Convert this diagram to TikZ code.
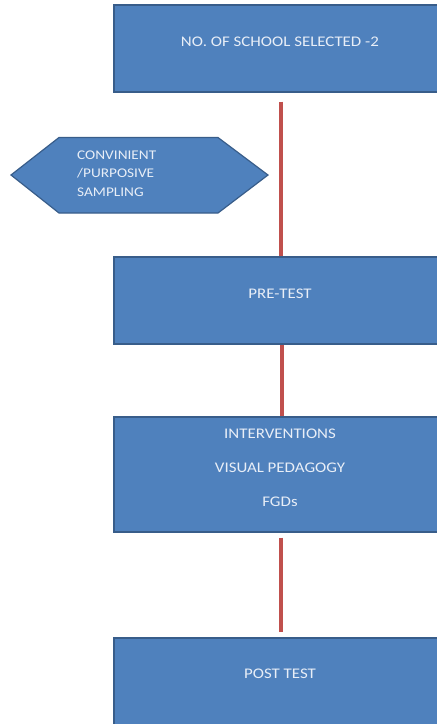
\documentclass[tikz,border=0pt]{standalone}
\usepackage{fontspec}
\setmainfont{Carlito}[FakeStretch=1.15]
\definecolor{boxfill}{HTML}{4F81BD}
\definecolor{boxline}{HTML}{385D8A}
\definecolor{linkred}{HTML}{C0504D}
\definecolor{boxtextc}{HTML}{E8EEF7}
\tikzset{
  x=1pt, y=-1pt,
  flowbox/.style={draw=boxline, line width=1.2pt, fill=boxfill, minimum width=332pt, minimum height=87pt, inner sep=0pt},
  flowtext/.style={text=boxtextc, font=\fontsize{14.7}{34}\selectfont, inner sep=0pt, align=center},
  hextext/.style={text=boxtextc, font=\fontsize{13.3}{18.5}\selectfont, inner sep=0pt, align=left, anchor=west},
  hexshape/.style={draw=boxline, line width=1.2pt, fill=boxfill},
  link/.style={draw=linkred, line width=4pt}
}
\begin{document}
\begin{tikzpicture}
\useasboundingbox (0,0) rectangle (437,724);
% boxes
\node[flowbox] (b1) at (280,48.5) {};
\node[flowtext] (t1) at (280,42) {NO. OF SCHOOL SELECTED -2};
\node[flowbox] (b2) at (280,300.5) {};
\node[flowtext] (t2) at (280,294) {PRE-TEST};
\node[flowbox, minimum height=115pt] (b3) at (280,474.5) {};
\node[flowtext] (t3) at (280,468) {INTERVENTIONS\\VISUAL PEDAGOGY\\FGDs};
\node[flowbox] (b4) at (280,681.5) {};
\node[flowtext] (t4) at (280,674) {POST TEST};
% hexagon
\path[hexshape] (11,175) -- (59,137.5) -- (218,137.5) -- (268,175) -- (218,213) -- (59,213) -- cycle;
\node[hextext] (h) at (77,173.5) {CONVINIENT\\/PURPOSIVE\\SAMPLING};
% connectors
\draw[link] ([xshift=1pt,yshift=-9pt]b1.south) -- ([xshift=1pt]b2.north);
\draw[link] ([xshift=2pt]b2.south) -- ([xshift=2pt]b3.north);
\draw[link] ([xshift=1pt,yshift=-5pt]b3.south) -- ([xshift=1pt,yshift=5pt]b4.north);
\end{tikzpicture}
\end{document}
